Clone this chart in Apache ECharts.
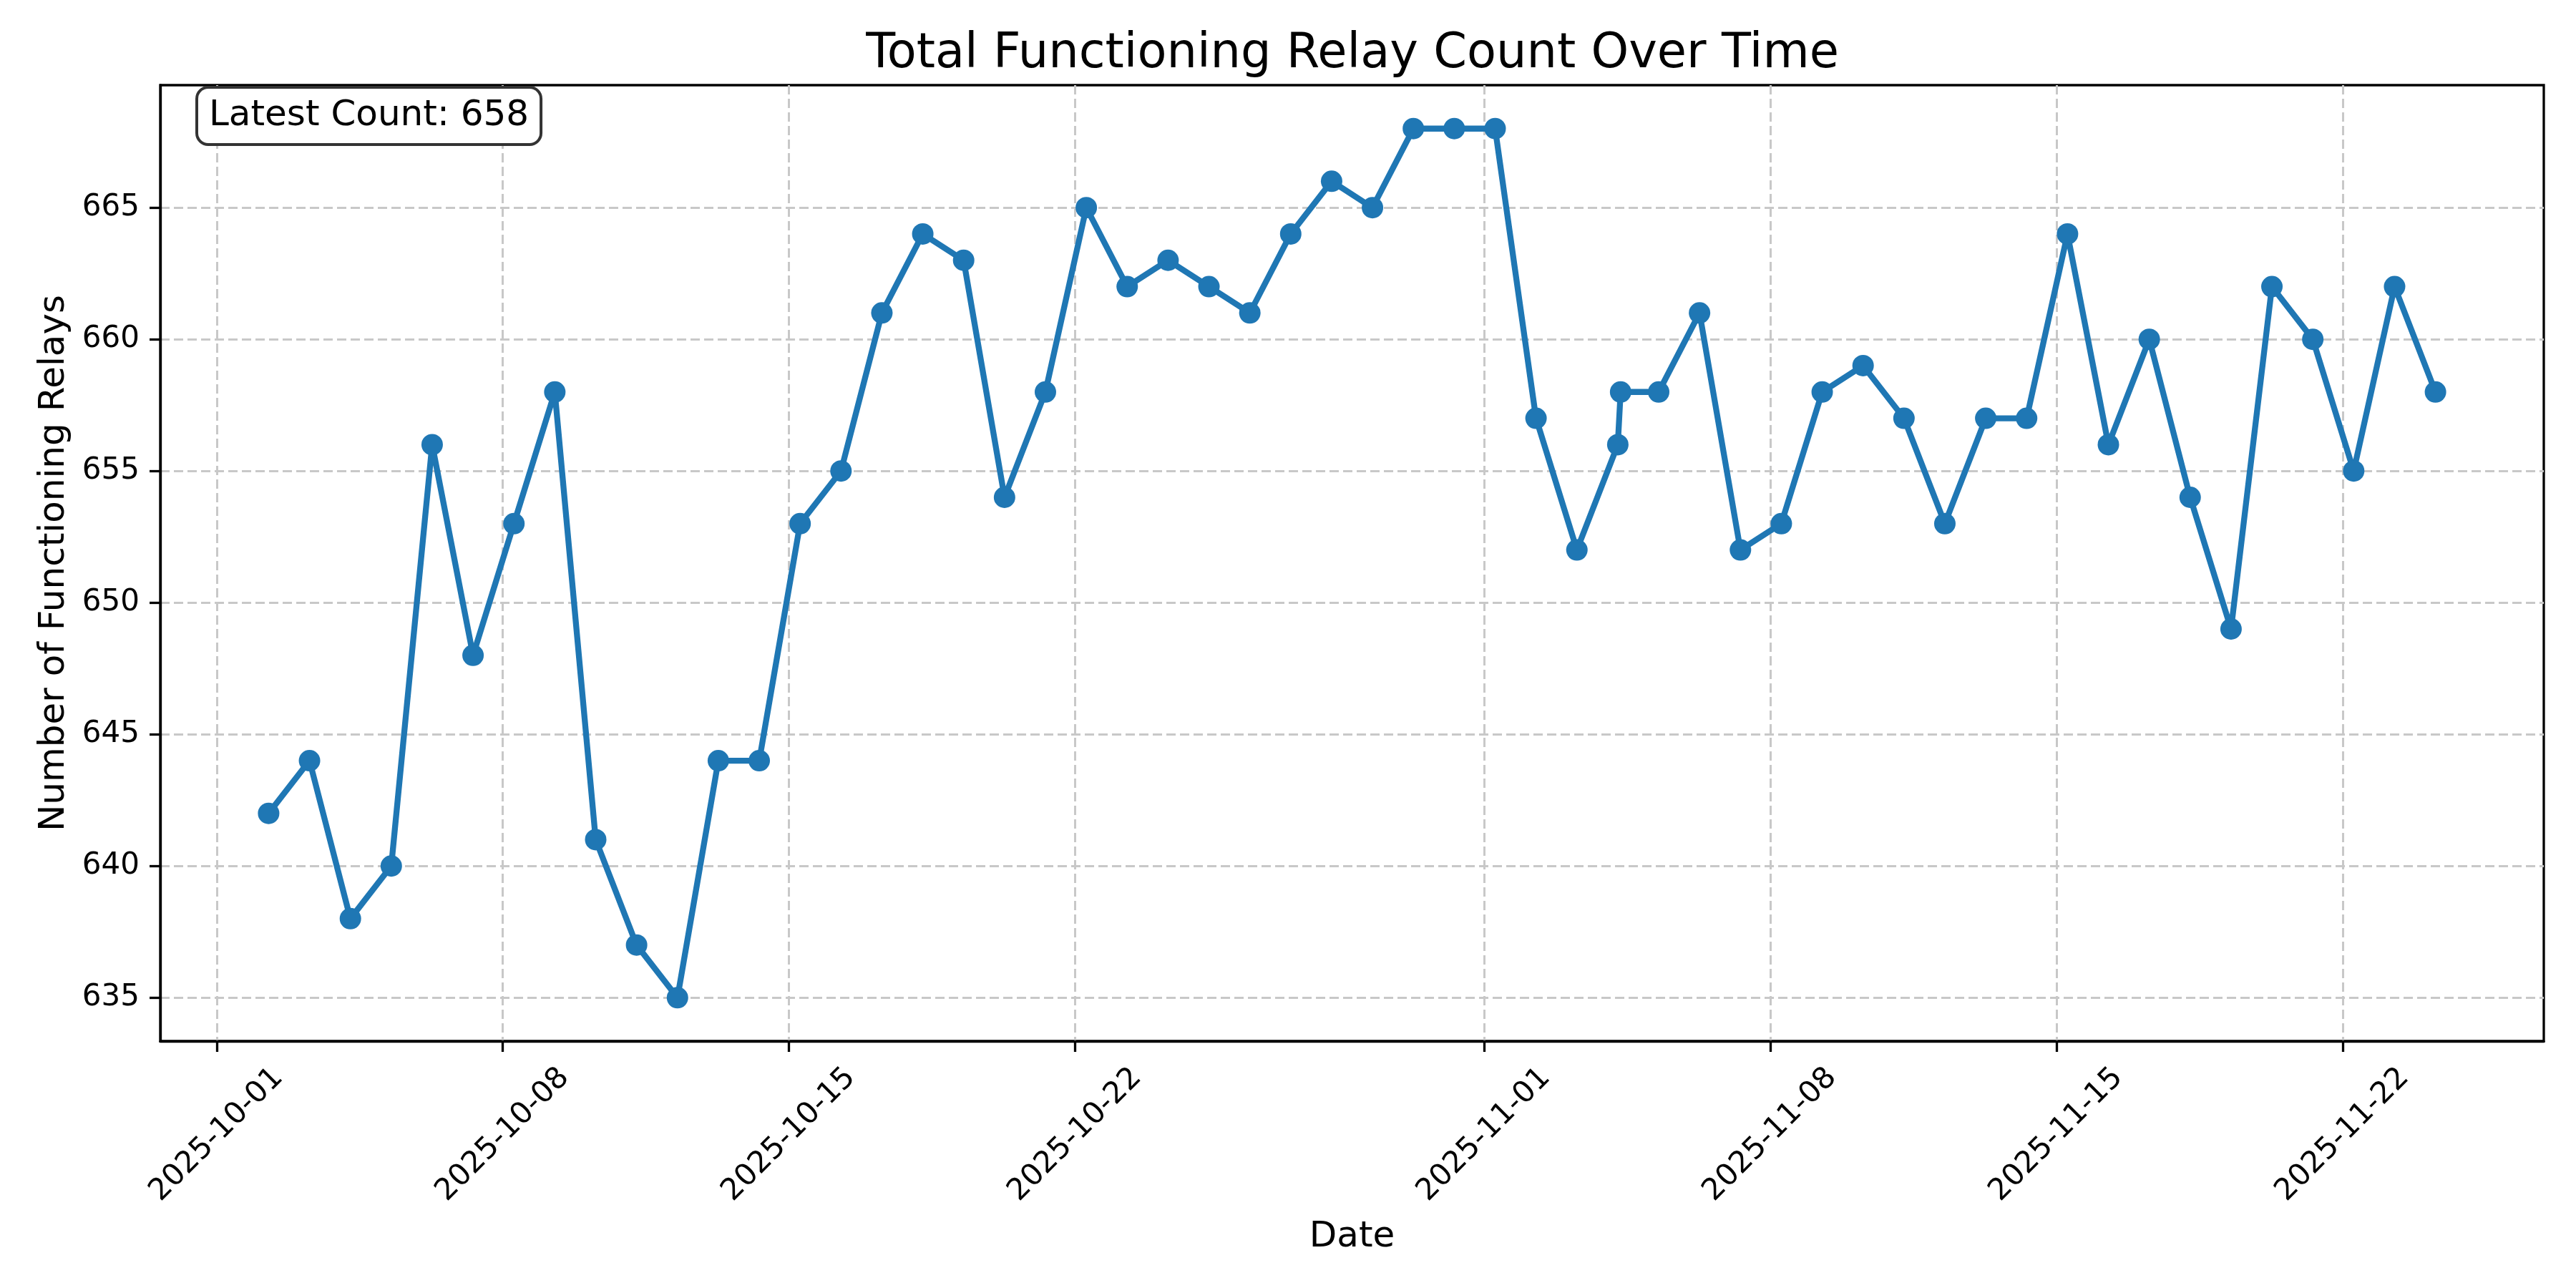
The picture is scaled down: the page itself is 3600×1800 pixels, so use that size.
<!DOCTYPE html>
<html>
<head>
<meta charset="utf-8">
<title>Total Functioning Relay Count Over Time</title>
<script src="https://cdn.jsdelivr.net/npm/echarts@6/dist/echarts.min.js"></script>
<style>
  html, body { margin: 0; padding: 0; background: #fff; }
  #chart { width: 3600px; height: 1800px; }
</style>
</head>
<body>
<div id="chart"></div>
<script>
// sample times (one reading a day, one extra on 11-04)
const sampleTimes = [
  '2025-10-02 06:30', '2025-10-03 06:30', '2025-10-04 06:30', '2025-10-05 06:30',
  '2025-10-06 06:30', '2025-10-07 06:30', '2025-10-08 06:30', '2025-10-09 06:30',
  '2025-10-10 06:30', '2025-10-11 06:30', '2025-10-12 06:30', '2025-10-13 06:30',
  '2025-10-14 06:30', '2025-10-15 06:30', '2025-10-16 06:30', '2025-10-17 06:30',
  '2025-10-18 06:30', '2025-10-19 06:30', '2025-10-20 06:30', '2025-10-21 06:30',
  '2025-10-22 06:30', '2025-10-23 06:30', '2025-10-24 06:30', '2025-10-25 06:30',
  '2025-10-26 06:30', '2025-10-27 06:30', '2025-10-28 06:30', '2025-10-29 06:30',
  '2025-10-30 06:30', '2025-10-31 06:30', '2025-11-01 06:30', '2025-11-02 06:30',
  '2025-11-03 06:30', '2025-11-04 06:30', '2025-11-04 08:10', '2025-11-05 06:30',
  '2025-11-06 06:30', '2025-11-07 06:30', '2025-11-08 06:30', '2025-11-09 06:30',
  '2025-11-10 06:30', '2025-11-11 06:30', '2025-11-12 06:30', '2025-11-13 06:30',
  '2025-11-14 06:30', '2025-11-15 06:30', '2025-11-16 06:30', '2025-11-17 06:30',
  '2025-11-18 06:30', '2025-11-19 06:30', '2025-11-20 06:30', '2025-11-21 06:30',
  '2025-11-22 06:30', '2025-11-23 06:30', '2025-11-24 06:30'
];

const relayCounts = [
  642, 644, 638, 640, 656, 648, 653, 658, 641, 637, 635, 644, 644, 653,
  655, 661, 664, 663, 654, 658, 665, 662, 663, 662, 661, 664, 666, 665,
  668, 668, 668, 657, 652, 656, 658, 658, 661, 652, 653, 658, 659, 657,
  653, 657, 657, 664, 656, 660, 654, 649, 662, 660, 655, 662, 658
];

// x tick dates and y tick values
const xTickDates = ['2025-10-01', '2025-10-08', '2025-10-15', '2025-10-22',
                    '2025-11-01', '2025-11-08', '2025-11-15', '2025-11-22'];
const yTickValues = [635, 640, 645, 650, 655, 660, 665];

const toTime = s => new Date(s.length > 10 ? s.replace(' ', 'T') + ':00' : s + 'T00:00:00').getTime();

const times = sampleTimes.map(toTime);
const seriesData = times.map((t, i) => [t, relayCounts[i]]);
const xTickTimes = xTickDates.map(toTime);

// 5% margins like matplotlib
const tMin = Math.min(...times), tMax = Math.max(...times);
const vMin = Math.min(...relayCounts), vMax = Math.max(...relayCounts);
const tPad = (tMax - tMin) * 0.05;
const vPad = (vMax - vMin) * 0.05;

const pad2 = n => (n < 10 ? '0' : '') + n;
const fmtDate = v => {
  const d = new Date(v);
  return d.getFullYear() + '-' + pad2(d.getMonth() + 1) + '-' + pad2(d.getDate());
};

const FONT = '"DejaVu Sans", sans-serif';
const latest = relayCounts[relayCounts.length - 1];

const chart = echarts.init(document.getElementById('chart'));

const option = {
  backgroundColor: '#fff',
  animation: false,
  title: {
    text: 'Total Functioning Relay Count Over Time',
    left: 1890,
    textAlign: 'center',
    top: 43,
    padding: 0,
    textStyle: { fontFamily: FONT, fontSize: 67, fontWeight: 'normal', color: '#000' }
  },
  grid: {
    left: 224, right: 45, top: 119, bottom: 345,
    show: true,
    borderColor: '#000',
    borderWidth: 3.3,
    outerBoundsMode: 'none'
  },
  xAxis: {
    type: 'value',
    min: tMin - tPad,
    max: tMax + tPad,
    name: 'Date',
    nameLocation: 'middle',
    nameGap: 249,
    nameMoveOverlap: false,
    nameTextStyle: { fontFamily: FONT, fontSize: 50, color: '#000' },
    axisLine: { onZero: false, lineStyle: { color: '#000', width: 3.3 } },
    axisTick: {
      show: true, length: 15, inside: false,
      lineStyle: { color: '#000', width: 3.3 },
      customValues: xTickTimes
    },
    axisLabel: {
      customValues: xTickTimes,
      rotate: 45,
      align: 'center',
      verticalAlign: 'middle',
      margin: 131,
      fontFamily: FONT,
      fontSize: 42,
      color: '#000',
      formatter: v => fmtDate(v)
    },
    splitLine: {
      show: true,
      lineStyle: { color: '#c8c8c8', width: 3, type: [13, 6] }
    }
  },
  yAxis: {
    type: 'value',
    min: vMin - vPad,
    max: vMax + vPad,
    name: 'Number of Functioning Relays',
    nameLocation: 'middle',
    nameRotate: 90,
    nameGap: 123,
    nameMoveOverlap: false,
    nameTextStyle: { fontFamily: FONT, fontSize: 50, color: '#000' },
    axisLine: { show: true, lineStyle: { color: '#000', width: 3.3 } },
    axisTick: {
      show: true, length: 15, inside: false,
      lineStyle: { color: '#000', width: 3.3 },
      customValues: yTickValues
    },
    axisLabel: {
      customValues: yTickValues,
      margin: 29,
      fontFamily: FONT,
      fontSize: 42,
      color: '#000'
    },
    splitLine: {
      show: true,
      lineStyle: { color: '#c8c8c8', width: 3, type: [13, 6] }
    }
  },
  series: [
    {
      name: 'Functioning Relays',
      type: 'line',
      data: seriesData,
      symbol: 'circle',
      symbolSize: 30,
      showAllSymbol: true,
      lineStyle: { color: '#1f77b4', width: 8.3 },
      itemStyle: { color: '#1f77b4' },
      z: 3
    }
  ],
  // annotation box in upper left
  graphic: [
    {
      type: 'text',
      left: 273,
      top: 120,
      z: 10,
      style: {
        text: 'Latest Count: ' + latest,
        font: '50px ' + FONT,
        fill: '#000',
        backgroundColor: '#fff',
        borderColor: '#333',
        borderWidth: 4,
        borderRadius: 14,
        lineHeight: 56,
        padding: [10, 15, 10, 15]
      }
    }
  ]
};

chart.setOption(option);
</script>
</body>
</html>
